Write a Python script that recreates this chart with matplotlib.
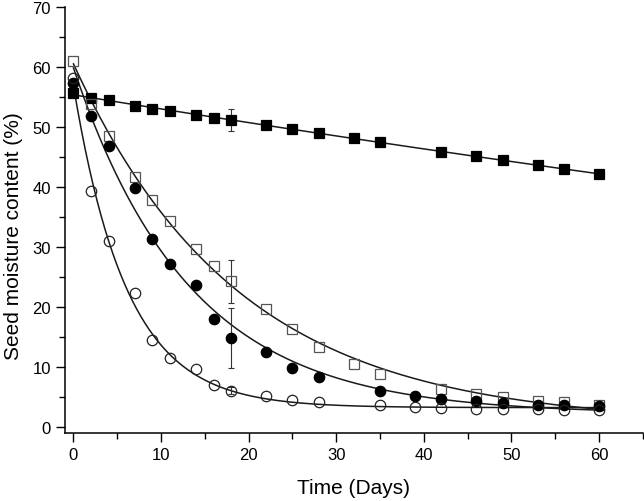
import matplotlib
matplotlib.use("Agg")
import matplotlib.pyplot as plt
import numpy as np
from matplotlib.ticker import MultipleLocator

plt.rcParams["font.family"] = ["Liberation Sans", "DejaVu Sans"]

# data (days, seed moisture %)
days_a = [0, 2, 4, 7, 9, 11, 14, 16, 18, 22, 25, 28, 32, 35, 42, 46, 49, 53, 56, 60]
moist_filled_sq = [55.7, 54.9, 54.5, 53.6, 53.1, 52.7, 52.0, 51.55, 51.2, 50.3,
                   49.7, 49.0, 48.2, 47.55, 45.9, 45.2, 44.55, 43.6, 43.0, 42.1]
moist_open_sq = [61.0, 53.8, 48.6, 41.6, 37.8, 34.4, 29.6, 26.8, 24.3, 19.6,
                 16.3, 13.3, 10.4, 8.8, 6.3, 5.4, 4.9, 4.3, 4.2, 3.7]

days_b = [0, 2, 4, 7, 9, 11, 14, 16, 18, 22, 25, 28, 35, 39, 42, 46, 49, 53, 56, 60]
moist_filled_ci = [57.3, 51.9, 46.8, 39.8, 31.4, 27.2, 23.6, 18.0, 14.8, 12.4,
                   9.8, 8.35, 5.9, 5.2, 4.7, 4.3, 4.0, 3.7, 3.6, 3.4]
moist_open_ci = [58.2, 39.4, 31.0, 22.4, 14.55, 11.55, 9.6, 6.9, 6.0, 5.1,
                 4.5, 4.05, 3.55, 3.3, 3.2, 3.0, 2.9, 2.9, 2.8, 2.8]

# error bars only shown at day 18
err_day = 18
err_filled_sq = 1.8
err_open_sq = 3.6
err_filled_ci = 5.0
err_open_ci = 0.6


def fit_decay(t, y):
    # y = a + b*exp(-k t), scan k and solve a, b by least squares
    t = np.asarray(t, float)
    y = np.asarray(y, float)
    best = None
    for k in np.linspace(0.0005, 0.6, 3000):
        A = np.column_stack([np.ones_like(t), np.exp(-k * t)])
        coef = np.linalg.lstsq(A, y, rcond=None)[0]
        err = np.sum((A @ coef - y) ** 2)
        if best is None or err < best[0]:
            best = (err, k, coef)
    _, k, (a, b) = best
    return lambda x: a + b * np.exp(-k * x)


fig = plt.figure(figsize=(6.44, 5.02), dpi=100)
ax = fig.add_axes([0.1005, 0.136, 0.8975, 0.8475])

tt = np.linspace(0, 60, 400)
series = [
    (days_a, moist_filled_sq, "s", "black", "black", err_filled_sq),
    (days_a, moist_open_sq, "s", "none", "#555555", err_open_sq),
    (days_b, moist_filled_ci, "o", "black", "black", err_filled_ci),
    (days_b, moist_open_ci, "o", "none", "#222222", err_open_ci),
]
for t, y, mk, fc, ec, err in series:
    f = fit_decay(t, y)
    ax.plot(tt, f(tt), color="#1a1a1a", lw=1.1, zorder=2)
    ax.plot(t, y, linestyle="none", marker=mk, markersize=7.5,
            markerfacecolor=fc, markeredgecolor=ec, markeredgewidth=0.9, zorder=3)
    yi = y[list(t).index(err_day)]
    ax.errorbar([err_day], [yi], yerr=[err], fmt="none", ecolor="#333333",
                elinewidth=0.8, capsize=2.5, capthick=0.8, zorder=2)

ax.set_xlim(-1, 65)
ax.set_ylim(-1, 70)
ax.xaxis.set_major_locator(MultipleLocator(10))
ax.xaxis.set_minor_locator(MultipleLocator(5))
ax.yaxis.set_major_locator(MultipleLocator(10))
ax.yaxis.set_minor_locator(MultipleLocator(5))

for side in ["top", "right"]:
    ax.spines[side].set_visible(False)
for side in ["left", "bottom"]:
    ax.spines[side].set_linewidth(1.1)

ax.tick_params(which="major", direction="out", length=6.5, width=1.0, labelsize=12)
ax.tick_params(which="minor", direction="out", length=4, width=1.0)

ax.set_xlabel("Time (Days)", fontsize=15, labelpad=12)
ax.set_ylabel("Seed moisture content (%)", fontsize=15)
ax.yaxis.set_label_coords(-0.072, 0.465)

fig.savefig("out.png", dpi=100)
